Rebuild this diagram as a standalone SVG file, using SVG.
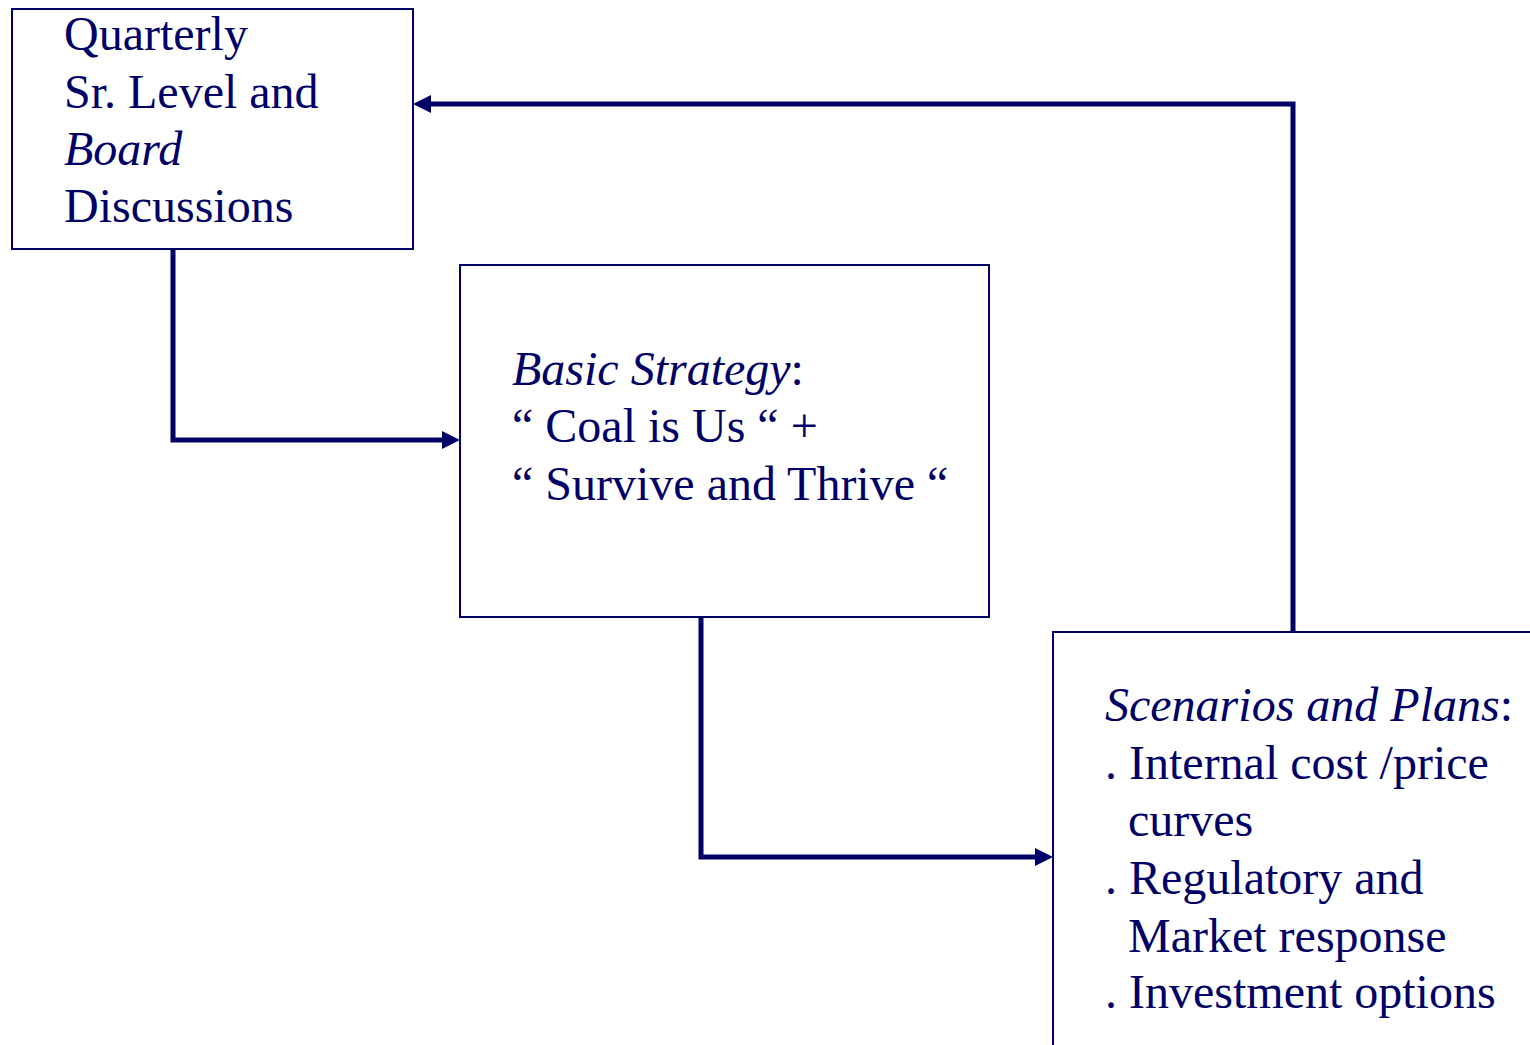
<svg xmlns="http://www.w3.org/2000/svg" width="1530" height="1045" viewBox="0 0 1530 1045">
<style>
.box{fill:#ffffff;stroke:#000066;stroke-width:2}
.t{font-family:"Liberation Serif","Times New Roman",serif;font-size:48px;fill:#000066}
.i{font-style:italic}
.c{fill:none;stroke:#000066;stroke-width:5}
</style>
<defs>
<marker id="ah" markerUnits="userSpaceOnUse" markerWidth="20" markerHeight="20" refX="18" refY="9" orient="auto">
<path d="M0,0 L18,9 L0,18 Z" fill="#000066"/>
</marker>
</defs>
<rect width="1530" height="1045" fill="#ffffff"/>
<g id="node-quarterly">
<rect class="box" x="12" y="9" width="401" height="240"/>
<text class="t" x="64" y="50">Quarterly</text>
<text class="t" x="64" y="108">Sr. Level and</text>
<text class="t i" x="64" y="165">Board</text>
<text class="t" x="64" y="222">Discussions</text>
</g>
<g id="node-strategy">
<rect class="box" x="460" y="265" width="529" height="352"/>
<text class="t" x="512" y="385"><tspan class="i">Basic Strategy</tspan>:</text>
<text class="t" x="512" y="442">“ Coal is Us “ +</text>
<text class="t" x="512" y="500">“ Survive and Thrive “</text>
</g>
<g id="node-scenarios">
<rect class="box" x="1053" y="632" width="500" height="450"/>
<text class="t" x="1105" y="721"><tspan class="i">Scenarios and Plans</tspan>:</text>
<text class="t" x="1105" y="779">. Internal cost /price</text>
<text class="t" x="1128" y="836">curves</text>
<text class="t" x="1105" y="894">. Regulatory and</text>
<text class="t" x="1128" y="952">Market response</text>
<text class="t" x="1105" y="1008">. Investment options</text>
</g>
<g id="connectors">
<polyline class="c" points="173,249 173,440 443,440"/>
<line x1="440" y1="440" x2="460" y2="440" stroke="none" marker-end="url(#ah)"/>
<polyline class="c" points="701,617 701,857 1036,857"/>
<line x1="1033" y1="857" x2="1053" y2="857" stroke="none" marker-end="url(#ah)"/>
<polyline class="c" points="1293,632 1293,104 430,104"/>
<line x1="433" y1="104" x2="413" y2="104" stroke="none" marker-end="url(#ah)"/>
</g>
</svg>
